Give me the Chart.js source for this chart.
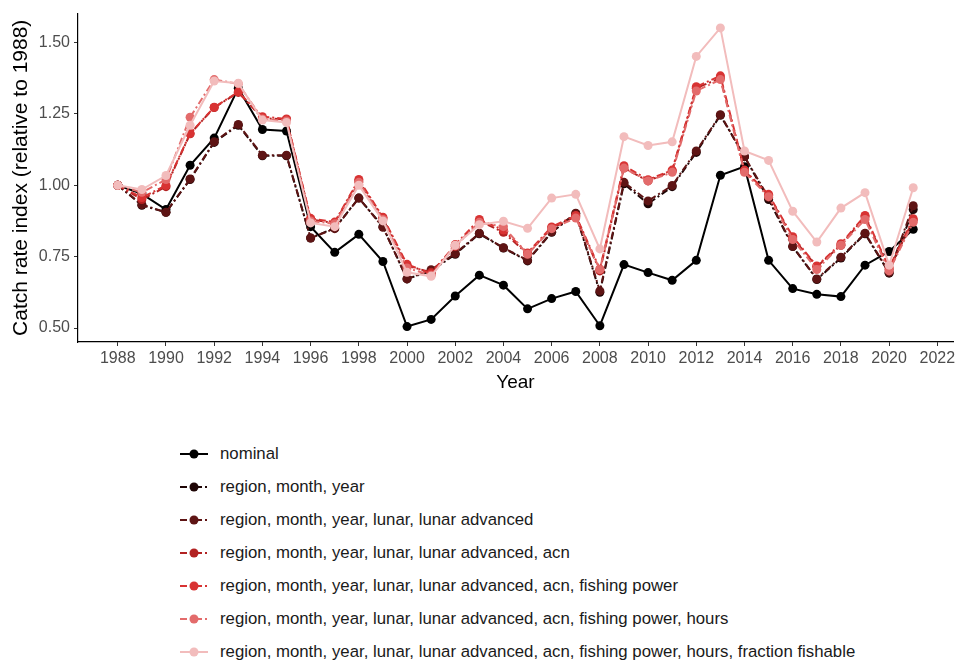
<!DOCTYPE html>
<html>
<head>
<meta charset="utf-8">
<script src="https://cdn.jsdelivr.net/npm/chart.js@4/dist/chart.umd.min.js"></script>
<style>
  body { margin: 0; background: #fff; font-family: "Liberation Sans", Arial, sans-serif; }
  #wrap { position: relative; width: 964px; height: 666px; }
  #chart { position: absolute; left: 0; top: 0; }
  #legend { position: absolute; left: 178px; top: 437px; }
  .row { height: 33px; display: flex; align-items: center; font-size: 16.8px; color: #1a1a1a; white-space: nowrap; }
  .row svg { margin-right: 10px; }
</style>
</head>
<body>
<div id="wrap">
  <canvas id="chart" width="964" height="400"></canvas>
  <div id="legend"></div>
</div>
<script>
const years = [1988,1989,1990,1991,1992,1993,1994,1995,1996,1997,1998,1999,2000,2001,2002,2003,2004,2005,
  2006,2007,2008,2009,2010,2011,2012,2013,2014,2015,2016,2017,2018,2019,2020,2021];

const nominal = [1.00,0.97,0.915,1.07,1.165,1.34,1.195,1.19,0.855,0.765,0.828,0.733,0.505,0.53,0.612,0.685,0.65,0.567,
  0.603,0.628,0.508,0.722,0.694,0.667,0.737,1.035,1.065,0.737,0.638,0.618,0.61,0.72,0.768,0.846];
const regionMonthYear = [1.00,0.93,0.905,1.02,1.15,1.21,1.103,1.103,0.815,0.85,0.955,0.855,0.672,0.70,0.758,0.83,0.78,0.735,
  0.835,0.90,0.625,1.005,0.935,0.995,1.115,1.245,1.10,0.95,0.785,0.67,0.745,0.83,0.692,0.915];
const lunar = [1.00,0.932,0.905,1.022,1.152,1.213,1.105,1.105,0.815,0.848,0.955,0.853,0.672,0.704,0.761,0.832,0.781,0.737,
  0.837,0.902,0.630,1.01,0.945,0.999,1.12,1.247,1.10,0.957,0.786,0.672,0.748,0.832,0.695,0.928];
const acn = [1.00,0.95,0.995,1.18,1.272,1.325,1.235,1.23,0.88,0.868,1.015,0.885,0.718,0.695,0.785,0.875,0.835,0.76,
  0.85,0.89,0.70,1.06,1.015,1.05,1.34,1.375,1.05,0.965,0.815,0.715,0.79,0.89,0.705,0.878];
const fishingPower = [1.00,0.957,0.999,1.181,1.273,1.327,1.24,1.232,0.884,0.871,1.02,0.888,0.723,0.69,0.792,0.88,0.843,0.763,
  0.854,0.894,0.706,1.068,1.019,1.053,1.345,1.383,1.053,0.968,0.82,0.717,0.795,0.894,0.711,0.883];
const hours = [1.00,0.975,1.02,1.238,1.37,1.355,1.232,1.225,0.875,0.865,1.01,0.88,0.71,0.685,0.788,0.87,0.855,0.758,
  0.848,0.885,0.705,1.06,1.015,1.045,1.33,1.37,1.045,0.96,0.81,0.705,0.79,0.88,0.70,0.87];
const fractionFishable = [1.00,0.985,1.034,1.21,1.365,1.357,1.228,1.22,0.868,0.855,1.0,0.875,0.695,0.681,0.79,0.862,0.874,0.849,
  0.955,0.968,0.777,1.17,1.139,1.152,1.451,1.551,1.12,1.087,0.909,0.801,0.92,0.974,0.72,0.991];

const seriesLabels = [
  'nominal',
  'region, month, year',
  'region, month, year, lunar, lunar advanced',
  'region, month, year, lunar, lunar advanced, acn',
  'region, month, year, lunar, lunar advanced, acn, fishing power',
  'region, month, year, lunar, lunar advanced, acn, fishing power, hours',
  'region, month, year, lunar, lunar advanced, acn, fishing power, hours, fraction fishable'
];
const seriesValues = [nominal, regionMonthYear, lunar, acn, fishingPower, hours, fractionFishable];
const seriesColors = ['#000000', '#1e0505', '#5e1414', '#b22222', '#d83333', '#e36b6b', '#f2bcbc'];
const dashed = [false, true, true, true, true, true, false];
const dashPattern = [7, 3, 2, 3];

const datasets = seriesLabels.map((label, i) => ({
  label: label,
  data: years.map((y, j) => ({ x: y, y: seriesValues[i][j] })),
  borderColor: seriesColors[i],
  backgroundColor: seriesColors[i],
  borderWidth: 2,
  borderDash: dashed[i] ? dashPattern : [],
  pointRadius: 4.5,
  pointBorderWidth: 0,
  pointHoverRadius: 4.5,
  tension: 0,
  order: seriesLabels.length - i
}));

const tickFont = { family: '"Liberation Sans", Arial, sans-serif', size: 16 };
const xTitleFont = { family: '"Liberation Sans", Arial, sans-serif', size: 19 };
const yTitleFont = { family: '"Liberation Sans", Arial, sans-serif', size: 21 };

const ctx = document.getElementById('chart').getContext('2d');
new Chart(ctx, {
  type: 'line',
  data: { datasets: datasets },
  options: {
    responsive: false,
    animation: false,
    layout: { padding: { top: 5, right: 11, left: 0, bottom: 0 } },
    plugins: { legend: { display: false }, tooltip: { enabled: false } },
    scales: {
      x: {
        type: 'linear',
        min: 1986.35,
        max: 2022.65,
        afterBuildTicks: (scale) => {
          const t = [];
          for (let y = 1988; y <= 2022; y += 2) t.push({ value: y });
          scale.ticks = t;
        },
        afterFit: (scale) => { scale.height = 58; },
        ticks: { color: '#4d4d4d', font: tickFont, padding: 3, maxRotation: 0, autoSkip: false,
          callback: (v) => String(v) },
        grid: { drawOnChartArea: false, drawTicks: true, tickLength: 4, color: '#333' },
        border: { display: true, color: '#000', width: 1.2 },
        title: { display: true, text: 'Year', color: '#000', font: xTitleFont, padding: { top: 2, bottom: 6 } }
      },
      y: {
        min: 0.451,
        max: 1.601,
        afterBuildTicks: (scale) => {
          scale.ticks = [0.5, 0.75, 1.0, 1.25, 1.5].map(v => ({ value: v }));
        },
        afterFit: (scale) => { scale.width = 78; },
        ticks: { color: '#4d4d4d', font: tickFont, padding: 4, callback: (v) => v.toFixed(2) },
        grid: { drawOnChartArea: false, drawTicks: true, tickLength: 4, color: '#333' },
        border: { display: true, color: '#000', width: 1.2 },
        title: { display: true, text: 'Catch rate index (relative to 1988)', color: '#000', font: yTitleFont,
          padding: { top: 9, bottom: 4 } }
      }
    }
  }
});

// legend as html, one row per series
const legend = document.getElementById('legend');
seriesLabels.forEach((label, i) => {
  const row = document.createElement('div');
  row.className = 'row';
  const dash = dashed[i] ? 'stroke-dasharray="' + dashPattern.join(' ') + '"' : '';
  row.innerHTML =
    '<svg width="32" height="14"><line x1="2" y1="7" x2="30" y2="7" stroke="' + seriesColors[i] + '" stroke-width="2" ' + dash + '/>' +
    '<circle cx="16" cy="7" r="4.5" fill="' + seriesColors[i] + '"/></svg>' +
    '<span>' + label + '</span>';
  legend.appendChild(row);
});
</script>
</body>
</html>
